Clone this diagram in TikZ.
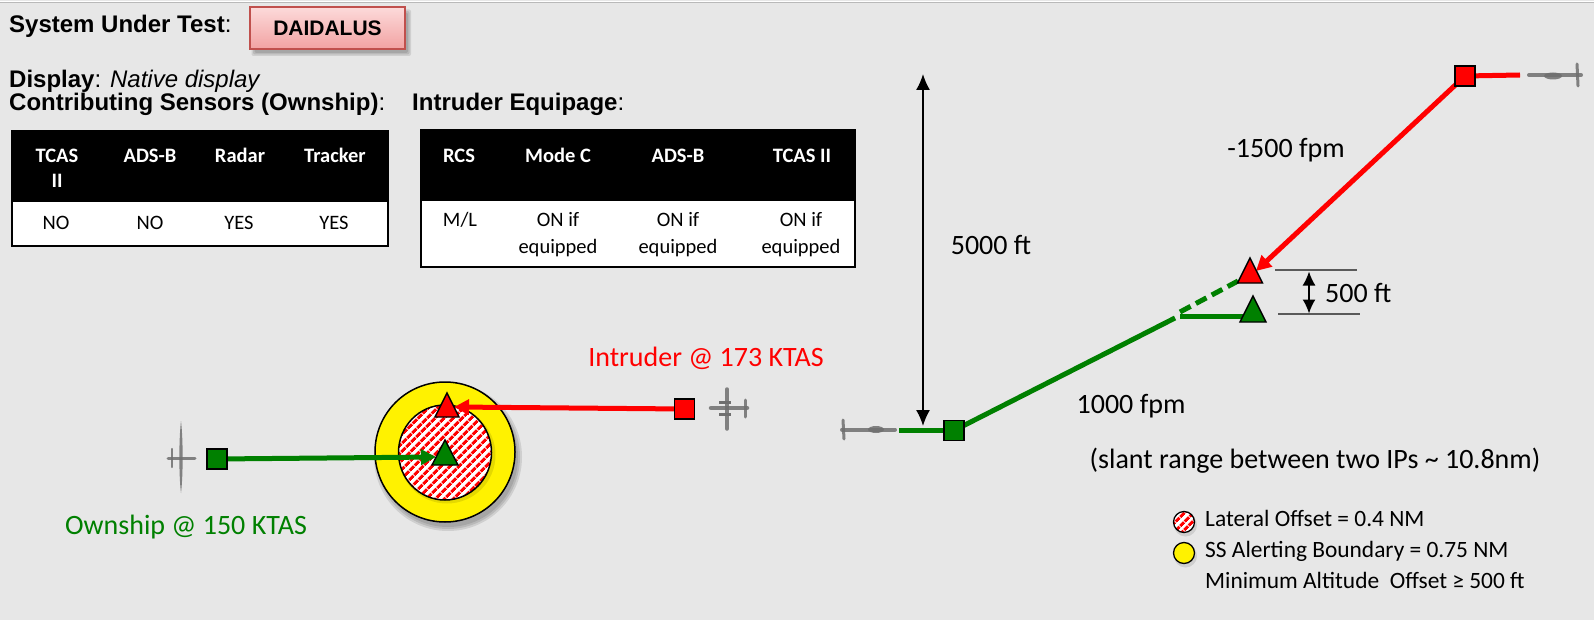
\documentclass[tikz,border=0pt]{standalone}
\usepackage{fontspec}
\setmainfont{Carlito}
\newfontfamily\headfont{Liberation Sans}
\usetikzlibrary{arrows.meta,patterns.meta,calc}

\definecolor{bgcol}{HTML}{E7E7E7}
\definecolor{owngreen}{HTML}{008000}
\definecolor{intred}{HTML}{FF0000}
\definecolor{pinktop}{HTML}{FCDADA}
\definecolor{pinkbot}{HTML}{F2A2A2}
\definecolor{pinkedge}{HTML}{C0504D}
\definecolor{planegray}{HTML}{6F6F6F}
\definecolor{dimgray}{HTML}{5A5A5A}

\newcommand\headfs{\headfont\fontsize{24}{26}\selectfont}
\newcommand\lblfs{\fontsize{28}{32}\selectfont}
\newcommand\cellfs{\fontsize{20.5}{24}\selectfont}
\newcommand\legfs{\fontsize{23.4}{28}\selectfont}

\pgfdeclarelayer{backdrop}
\pgfdeclarelayer{wires}
\pgfsetlayers{backdrop,wires,main}

\begin{document}
\begin{tikzpicture}[x=1pt,y=-1pt,
  heading/.style={font=\headfs, inner sep=0pt, anchor=base west},
  lbl/.style={font=\lblfs, inner sep=0pt},
  legtext/.style={font=\legfs, inner sep=0pt, anchor=base west},
  cell/.style={font=\cellfs, inner sep=0pt, anchor=base},
  headcell/.style={cell, text=white, font=\cellfs\bfseries},
  sq/.style={draw=black, line width=1.4pt, minimum size=20pt, inner sep=0pt},
  tri/.style={draw=black, line width=1.4pt, line join=miter},
  ownline/.style={draw=owngreen, line width=5pt},
  intline/.style={draw=intred, line width=5pt},
  ownarrow/.style={ownline, -{Triangle[length=15pt,width=15pt]}},
  intarrow/.style={intline, -{Triangle[length=15pt,width=15pt]}},
  dimarrow/.style={draw=black, line width=1.6pt, {Latex[length=16pt,width=14pt]}-{Latex[length=16pt,width=14pt]}},
  smalldim/.style={draw=black, line width=1.6pt, {Latex[length=14pt,width=13pt]}-{Latex[length=14pt,width=13pt]}},
  dimline/.style={draw=dimgray, line width=1.2pt},
  planeline/.style={draw=planegray, line cap=round, opacity=0.85},
  shade1/.style={fill=black, opacity=0.10},
  hatch/.style={pattern={Lines[angle=45,distance=6.5pt,line width=3.2pt]}, pattern color=intred},
]
\useasboundingbox (0,0) rectangle (1594,620);

\begin{pgfonlayer}{backdrop}
  \fill[bgcol] (0,0) rectangle (1594,620);
  \fill[white] (0,1) rectangle (1594,2.4);
  \draw[gray!55, line width=0.9pt] (0,2.9) -- (1594,2.9);
\end{pgfonlayer}

% ---------- header block ----------
\node[heading] (sut) at (9,33) {\textbf{System Under Test}:};
% soft drop shadow under the system box
\foreach \g in {0,1.5,3}{
  \fill[shade1, rounded corners=2pt] (251.5-\g+3,8.5-\g+4) rectangle (405+\g+3,49+\g+4);
}
\node[draw=pinkedge, line width=1.2pt, top color=pinktop, bottom color=pinkbot,
      minimum width=155pt, minimum height=42pt, inner sep=0pt,
      font=\headfont\fontsize{21}{24}\selectfont\bfseries]
      (daidalus) at (327.5,28) {DAIDALUS};
\node[heading] (disp) at (9,88) {\textbf{Display}: \textit{Native display}};
\node[heading] (sens) at (9,111) {\textbf{Contributing Sensors (Ownship)}:};
\node[heading] (equip) at (412,111) {\textbf{Intruder Equipage}:};

% ---------- sensor table ----------
\fill[black] (12,131) rectangle (388,201);
\draw[line width=2pt, fill=white] (12,201) rectangle (388,246);
\draw[line width=2pt] (12,131) rectangle (388,246);
\node[headcell] (s1) at (57,162.5) {TCAS};
\node[headcell] (s1b) at (57,188) {II};
\node[headcell] (s2) at (150,162.5) {ADS-B};
\node[headcell] (s3) at (240,162.5) {Radar};
\node[headcell] (s4) at (335,162.5) {Tracker};
\node[cell] (v1) at (56,230) {NO};
\node[cell] (v2) at (150,230) {NO};
\node[cell] (v3) at (239,230) {YES};
\node[cell] (v4) at (334,230) {YES};

% ---------- equipage table ----------
\fill[black] (421,130) rectangle (855,200);
\draw[line width=2pt, fill=white] (421,200) rectangle (855,267);
\draw[line width=2pt] (421,130) rectangle (855,267);
\node[headcell] (e1) at (459,162.5) {RCS};
\node[headcell] (e2) at (558,162.5) {Mode C};
\node[headcell] (e3) at (678,162.5) {ADS-B};
\node[headcell] (e4) at (802,162.5) {TCAS II};
\node[cell] (q1) at (460,227) {M/L};
\foreach \cx/\nm in {558/q2,678/q3,801/q4}{
  \node[cell] (\nm a) at (\cx,227) {ON if};
  \node[cell] (\nm b) at (\cx,254) {equipped};
}

% ---------- horizontal (plan) view ----------
\begin{pgfonlayer}{wires}
  \foreach \g in {0,2,4}{
    \fill[shade1] (448,457) circle [radius=70+\g];
  }
  \draw[line width=1.5pt, fill=yellow] (445,452) circle [radius=70];
  \fill[shade1] (447,455) circle [radius=48.5];
  \fill[white] (445,452.5) ellipse [x radius=46.5, y radius=47.5];
  \fill[hatch] (445,452.5) ellipse [x radius=46.5, y radius=47.5];
  \draw[line width=1.5pt] (445,452.5) ellipse [x radius=46.5, y radius=47.5];
\end{pgfonlayer}

\node[sq, fill=owngreen] (ownL) at (217,459) {};
\node[sq, fill=intred] (intL) at (684.5,409) {};
\coordinate (rtLside) at (454,407);
\coordinate (gtLside) at (436,457);
\draw[tri, fill=intred] (447,393) -- (459,417) -- (435,417) -- cycle;
\draw[tri, fill=owngreen] (445,440) -- (458,465) -- (432,465) -- cycle;

\begin{pgfonlayer}{wires}
  \draw[intarrow] (intL) -- (rtLside);
  \draw[ownarrow] (ownL) -- (gtLside);
\end{pgfonlayer}

% ownship seen from above, nose to the right
\fill[planegray, opacity=0.85] (181,421) .. controls (183.2,440) and (183.2,475) .. (181,493)
   .. controls (178.8,475) and (178.8,440) .. (181,421) -- cycle;
\draw[planeline, line width=3pt] (168,458) -- (195,458);
\draw[planeline, line width=2.4pt] (172,449) -- (172,467);

% intruder seen from above, nose to the left
\draw[planeline, line width=4.5pt] (711,408) -- (747,408);
\draw[planeline, line width=3.5pt] (727,389) -- (727,429);
\draw[planeline, line width=3pt] (745,400) -- (745,417);
\fill[planegray] (719,400.5) rectangle (731,403.5);
\fill[planegray] (719,412.5) rectangle (731,415.5);

\node[lbl, text=intred] (intlbl) at (706,358) {Intruder @ 173 KTAS};
\node[lbl, text=owngreen] (ownlbl) at (186,527) {Ownship @ 150 KTAS};

% ---------- vertical (profile) view ----------
\node[sq, fill=owngreen] (ownR) at (954,430.5) {};
\node[sq, fill=intred] (intR) at (1465,76) {};
\coordinate (ownRtail) at (899,430.5);
\coordinate (intRtail) at (1520,75);
\coordinate (bend) at (1175,318);
\coordinate (dashstart) at (1180,312);
\coordinate (rtRbase) at (1238,281);
\coordinate (hstart) at (1180,316);
\coordinate (gtRside) at (1246,316);
\coordinate (rtRside) at (1256,271);
\draw[tri, fill=intred] (1250,258) -- (1262.5,283) -- (1237.5,283) -- cycle;
\draw[tri, fill=owngreen] (1253,296) -- (1266,322) -- (1240,322) -- cycle;

\begin{pgfonlayer}{wires}
  \draw[ownline] (ownRtail) -- (ownR);
  \draw[ownline] (ownR.center) -- (bend);
  \draw[ownline, dash pattern=on 12pt off 6pt] (dashstart) -- (rtRbase);
  \draw[ownline] (hstart) -- (gtRside);
  \draw[intline] (intR.center) -- (intRtail);
  \draw[intarrow] (intR.center) -- (rtRside);
\end{pgfonlayer}

% ownship side view, nose to the right
\draw[planeline, line width=4pt] (842,429.5) -- (895,429.5);
\draw[planeline, line width=3pt] (843,420) -- (844,439);
\fill[planegray, opacity=0.85] (876,429.5) ellipse [x radius=8, y radius=3.5];
% intruder side view, nose to the left
\draw[planeline, line width=4pt] (1529,75) -- (1581,75);
\draw[planeline, line width=3pt] (1577,64) -- (1578,86);
\fill[planegray, opacity=0.85] (1553,76) ellipse [x radius=9, y radius=3.5];

% altitude dimensions
\coordinate (alt5top) at (923,74);
\coordinate (alt5bot) at (923,426);
\draw[dimarrow] (alt5top) -- (alt5bot);
\coordinate (sepA1) at (1275,270);
\coordinate (sepA2) at (1357,270);
\coordinate (sepB1) at (1278,314);
\coordinate (sepB2) at (1360,314);
\draw[dimline] (sepA1) -- (sepA2);
\draw[dimline] (sepB1) -- (sepB2);
\coordinate (sepTop) at (1309,271.5);
\coordinate (sepBot) at (1309,313.5);
\draw[smalldim] (sepTop) -- (sepBot);

\node[lbl] (l5000) at (991,245) {5000 ft};
\node[lbl] (l1500) at (1286,150) {-1500 fpm};
\node[lbl] (l1000) at (1131,406) {1000 fpm};
\node[lbl, anchor=west] (l500) at (1325,293) {500 ft};
\node[lbl] (slant) at (1315,461) {(slant range between two IPs \textasciitilde{} 10.8nm)};

% ---------- legend ----------
\fill[shade1] (1185.5,525) circle [radius=11.5];
\fill[shade1] (1185.5,556) circle [radius=11.5];
\fill[white] (1184,522) circle [radius=10.5];
\fill[hatch] (1184,522) circle [radius=10.5];
\draw[line width=1.3pt] (1184,522) circle [radius=10.5];
\draw[line width=1.3pt, fill=yellow] (1184,553) circle [radius=10.5];
\node[legtext] (leg1) at (1205,526) {Lateral Offset = 0.4 NM};
\node[legtext] (leg2) at (1205,557) {SS Alerting Boundary = 0.75 NM};
\node[legtext] (leg3) at (1205,588) {Minimum Altitude\ \ Offset ≥ 500 ft};
\end{tikzpicture}
\end{document}
